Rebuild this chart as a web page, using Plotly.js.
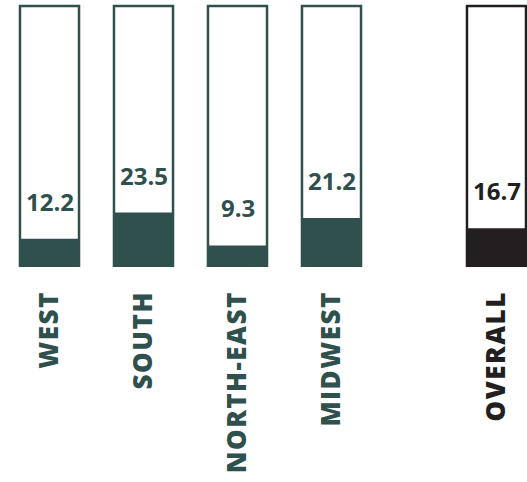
<!DOCTYPE html>
<html>
<head>
<meta charset="utf-8">
<script src="https://cdn.plot.ly/plotly-3.0.1.min.js"></script>
<style>
html,body{margin:0;padding:0;background:#fff;}
#chart{width:527px;height:482px;}
.xtick text, .x2tick text{letter-spacing:1.5px;}
</style>
</head>
<body>
<div id="chart"></div>
<script>
// Data
var regions = ["WEST", "SOUTH", "NORTH-EAST", "MIDWEST"];
var regionValues = [12.2, 23.5, 9.3, 21.2];
var overallLabel = ["OVERALL"];
var overallValues = [16.7];
var frameMax = 112.7; // height of the empty outline "tube"

var teal = "#2f504c";
var black = "#231f20";
var fontFam = "'Open Sans', 'Noto Sans', sans-serif";

function frames(n){ var a=[]; for(var i=0;i<n;i++) a.push(frameMax); return a; }

var traces = [
  {type:"bar", x:regions, y:regionValues, xaxis:"x", yaxis:"y",
   marker:{color:teal, line:{width:0}}, hoverinfo:"skip"},
  {type:"bar", x:regions, y:frames(regions.length), xaxis:"x", yaxis:"y",
   marker:{color:"rgba(0,0,0,0)", line:{color:teal, width:2.5}}, hoverinfo:"skip"},
  {type:"bar", x:overallLabel, y:overallValues, xaxis:"x2", yaxis:"y2",
   marker:{color:black, line:{width:0}}, hoverinfo:"skip"},
  {type:"bar", x:overallLabel, y:frames(1), xaxis:"x2", yaxis:"y2",
   marker:{color:"rgba(0,0,0,0)", line:{color:black, width:2.5}}, hoverinfo:"skip"}
];

var annotations = [];
regions.forEach(function(r,i){
  annotations.push({xref:"x", yref:"y", x:r, y:regionValues[i], text:regionValues[i].toFixed(1),
    showarrow:false, yanchor:"bottom", yshift:19,
    font:{family:fontFam, size:24, color:teal, weight:700}});
});
overallLabel.forEach(function(r,i){
  annotations.push({xref:"x2", yref:"y2", x:r, y:overallValues[i], text:overallValues[i].toFixed(1),
    showarrow:false, yanchor:"bottom", yshift:19,
    font:{family:fontFam, size:24, color:black, weight:700}});
});

var yax = {range:[0,115.3], visible:false, showgrid:false, zeroline:false, fixedrange:true};
var tickFontBase = {family:fontFam, size:26, weight:800};
var layout = {
  width:527, height:482,
  margin:{l:0, r:0, t:0, b:215, pad:0},
  paper_bgcolor:"#fff", plot_bgcolor:"rgba(0,0,0,0)",
  barmode:"overlay", bargap:0.372,
  showlegend:false,
  xaxis:{domain:[2.5/527, 378.5/527], range:[-0.5,3.5], type:"category",
    showgrid:false, zeroline:false, showline:false, ticks:"",
    tickangle:-90, ticklabelstandoff:18,
    tickfont:Object.assign({}, tickFontBase, {color:teal})},
  xaxis2:{domain:[449.5/527, 1], range:[-0.5, 0.3245], type:"category", anchor:"y2",
    showgrid:false, zeroline:false, showline:false, ticks:"",
    tickangle:-90, ticklabelstandoff:18,
    tickfont:Object.assign({}, tickFontBase, {color:black})},
  yaxis:yax,
  yaxis2:Object.assign({}, yax, {anchor:"x2"}),
  annotations:annotations
};

Plotly.newPlot("chart", traces, layout, {staticPlot:true, displayModeBar:false});
</script>
</body>
</html>
